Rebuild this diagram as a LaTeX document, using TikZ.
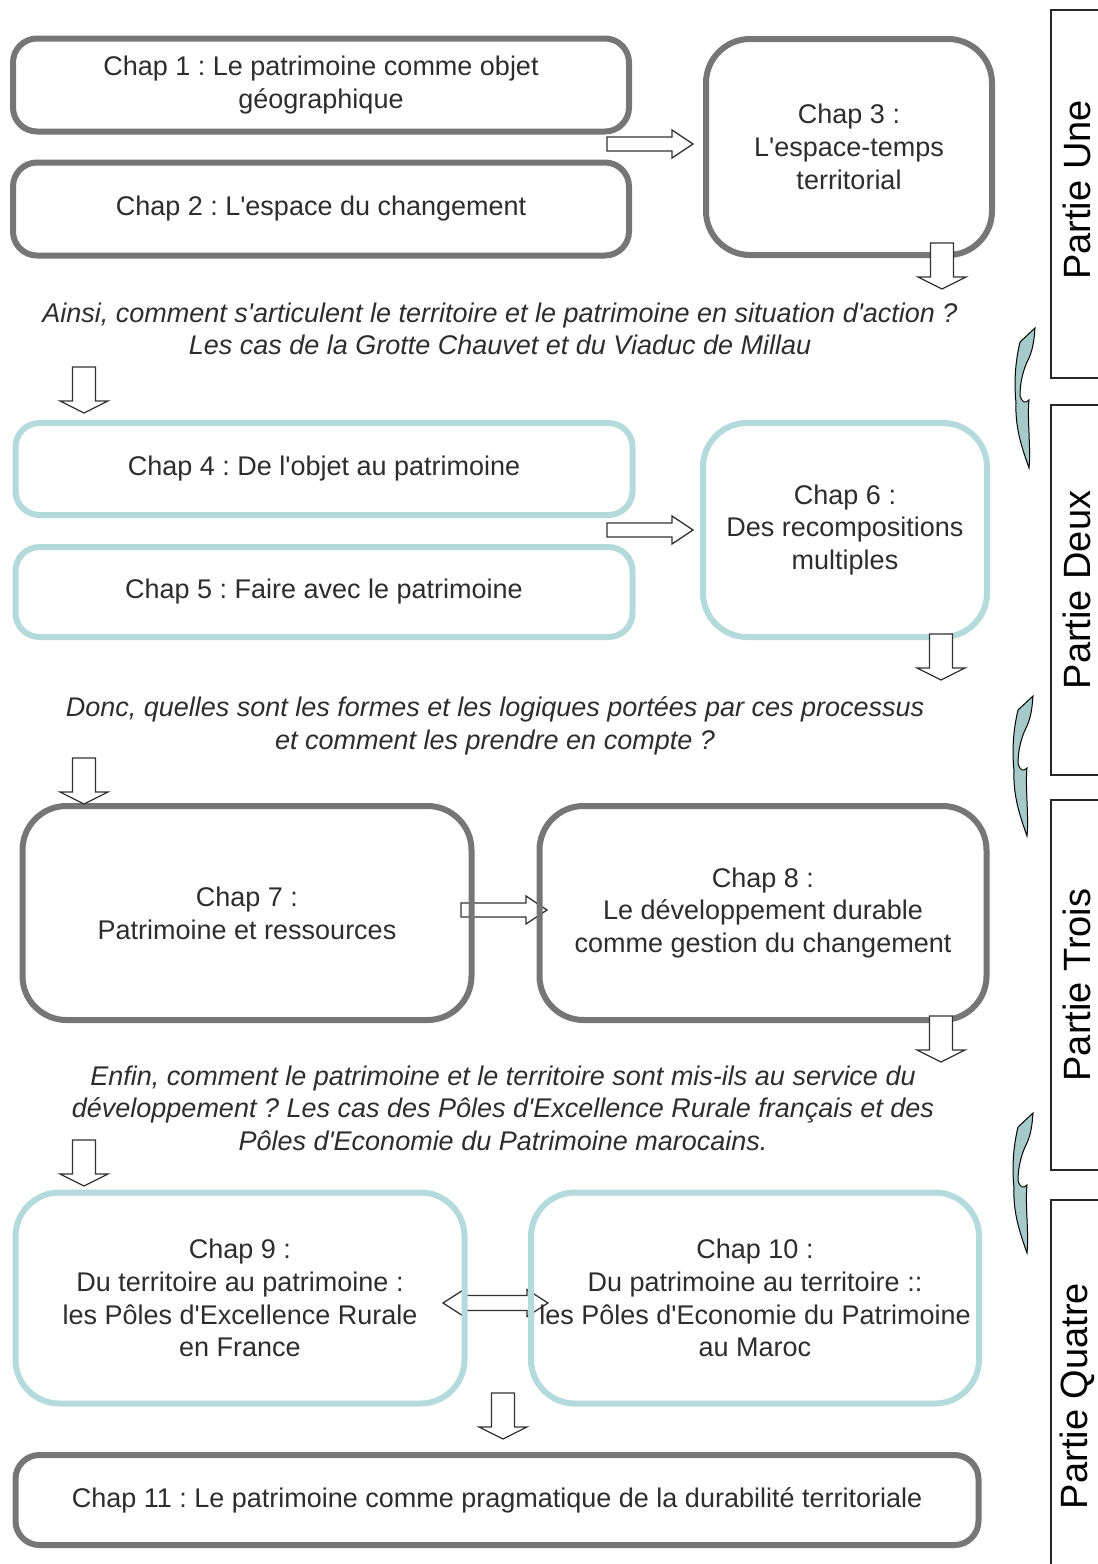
\documentclass[tikz,border=0pt]{standalone}
\usepackage{fontspec}
\setmainfont{Liberation Sans}[Ligatures=TeXOff]
\definecolor{boxgray}{RGB}{118,118,118}
\definecolor{boxteal}{RGB}{180,218,220}
\definecolor{bendfill}{RGB}{166,202,202}
\definecolor{txt}{RGB}{45,45,45}

\tikzset{
  basebox/.style={rectangle, line width=6pt, align=center, text=txt,
    font=\fontsize{27}{32.8}\selectfont, inner sep=0pt},
  graybox/.style={basebox, draw=boxgray},
  tealbox/.style={basebox, draw=boxteal},
  question/.style={align=center, text=txt, inner sep=0pt,
    font=\fontsize{27}{32.5}\selectfont\itshape},
  partbox/.style={draw=black!85, line width=1.6pt},
  parttext/.style={rotate=90, text=black, inner sep=0pt,
    font=\fontsize{38}{42}\selectfont},
  arrowline/.style={draw=black!80, line width=1.3pt, fill=white, line join=miter},
  % hollow block arrow pointing down, origin at the middle of its top edge
  downarr/.pic={
    \path[arrowline] (-11.5,0) -- (11.5,0) -- (11.5,34) -- (24,34) -- (0,46)
      -- (-24,34) -- (-11.5,34) -- cycle;
  },
  % hollow block arrow pointing right, origin at the middle of its tail
  rightarr/.pic={
    \path[arrowline] (0,-7) -- (65,-7) -- (65,-14) -- (86,0) -- (65,14)
      -- (65,7) -- (0,7) -- cycle;
  },
  % hollow block arrow with two heads, origin at the left tip
  botharr/.pic={
    \path[arrowline] (0,0) -- (21,-13.5) -- (21,-7.5) -- (84,-7.5) -- (84,-13.5)
      -- (105,0) -- (84,13.5) -- (84,7.5) -- (21,7.5) -- (21,13.5) -- cycle;
  },
  % curled ribbon arrow leading from one part to the next
  bendarr/.pic={
    \path[draw=black, line width=1pt, fill=bendfill]
      (5,14) -- (20,0) .. controls (19,15) and (17,24) .. (13,32)
      .. controls (8,42) and (5,55) .. (5,68)
      .. controls (7,74) and (10,76) .. (14,72)
      .. controls (12,90) and (16,120) .. (14,140)
      .. controls (7,120) and (0,100) .. (1,75)
      .. controls (-1,55) and (0,35) .. (5,14) -- cycle;
  }
}

\begin{document}
\frenchspacing
\begin{tikzpicture}[x=1pt, y=-1pt]
\useasboundingbox (0,0) rectangle (1098,1564);
\clip (0,0) rectangle (1098,1564);
\fill[white] (0,0) rectangle (1098,1564);

% side arrows sitting under the box borders
\pic (ra1) at (607,144) {rightarr};
\pic (ra2) at (607,530) {rightarr};
\pic (ra3) at (461,910) {rightarr};
\pic (ba1) at (443,1303) {botharr};

% ---- Partie Une ----
\node[graybox, rounded corners=24pt, minimum width=616, minimum height=93]
  (c1) at (321,85) {Chap 1 : Le patrimoine comme objet\\géographique};
\node[graybox, rounded corners=24pt, minimum width=616, minimum height=93]
  (c2) at (321,209) {Chap 2 : L'espace du changement};
\node[graybox, rounded corners=44pt, minimum width=286, minimum height=216]
  (c3) at (849,147) {Chap 3 :\\L'espace-temps\\territorial};
\node[question] (q1) at (500,329)
  {Ainsi, comment s'articulent le territoire et le patrimoine en situation d'action ?\\
   Les cas de la Grotte Chauvet et du Viaduc de Millau};

% ---- Partie Deux ----
\node[tealbox, rounded corners=24pt, minimum width=617, minimum height=92]
  (c4) at (324,469) {Chap 4 : De l'objet au patrimoine};
\node[tealbox, rounded corners=24pt, minimum width=617, minimum height=90]
  (c5) at (324,592) {Chap 5 : Faire avec le patrimoine};
\node[tealbox, rounded corners=44pt, minimum width=284, minimum height=214]
  (c6) at (845,530) {Chap 6 :\\Des recompositions\\multiples};
\node[question] (q2) at (495,726)
  {Donc, quelles sont les formes et les logiques portées par ces processus\\
   et comment les prendre en compte ?};

% ---- Partie Trois ----
\node[graybox, rounded corners=44pt, minimum width=449, minimum height=214]
  (c7) at (247,913) {Chap 7 :\\Patrimoine et ressources};
\node[graybox, rounded corners=44pt, minimum width=447, minimum height=214]
  (c8) at (763,913) {Chap 8 :\\Le développement durable\\comme gestion du changement};
\node[question] (q3) at (503,1108)
  {Enfin, comment le patrimoine et le territoire sont mis-ils au service du\\
   développement ? Les cas des Pôles d'Excellence Rurale français et des\\
   Pôles d'Economie du Patrimoine marocains.};

% ---- Partie Quatre ----
\node[tealbox, rounded corners=44pt, minimum width=449, minimum height=211]
  (c9) at (240,1298) {Chap 9 :\\Du territoire au patrimoine :\\les Pôles d'Excellence Rurale\\en France};
\node[tealbox, rounded corners=44pt, minimum width=448, minimum height=211]
  (c10) at (755,1298) {Chap 10 :\\Du patrimoine au territoire ::\\les Pôles d'Economie du Patrimoine\\au Maroc};
\node[graybox, rounded corners=24pt, minimum width=963, minimum height=90]
  (c11) at (497,1500) {Chap 11 : Le patrimoine comme pragmatique de la durabilité territoriale};

% downward arrows
\pic (da1) at (942,243) {downarr};
\pic (da2) at (84,367) {downarr};
\pic (da3) at (941,634) {downarr};
\pic (da4) at (84,758) {downarr};
\pic (da5) at (941,1016) {downarr};
\pic (da6) at (84,1140) {downarr};
\pic (da7) at (503,1393) {downarr};

% part labels on the right edge
\draw[partbox] (1051,10) rectangle (1120,378);
\draw[partbox] (1051,405) rectangle (1120,775);
\draw[partbox] (1051,800) rectangle (1120,1170);
\draw[partbox] (1051,1200) rectangle (1120,1600);
\node[parttext] (p1) at (1077,190) {Partie Une};
\node[parttext] (p2) at (1077,590) {Partie Deux};
\node[parttext] (p3) at (1077,985) {Partie Trois};
\node[parttext] (p4) at (1077,1396) {Partie Quatre};

% curled arrows between the parts
\pic (b1) at (1015,328) {bendarr};
\pic (b2) at (1013,696) {bendarr};
\pic (b3) at (1013,1113) {bendarr};
\end{tikzpicture}
\end{document}
